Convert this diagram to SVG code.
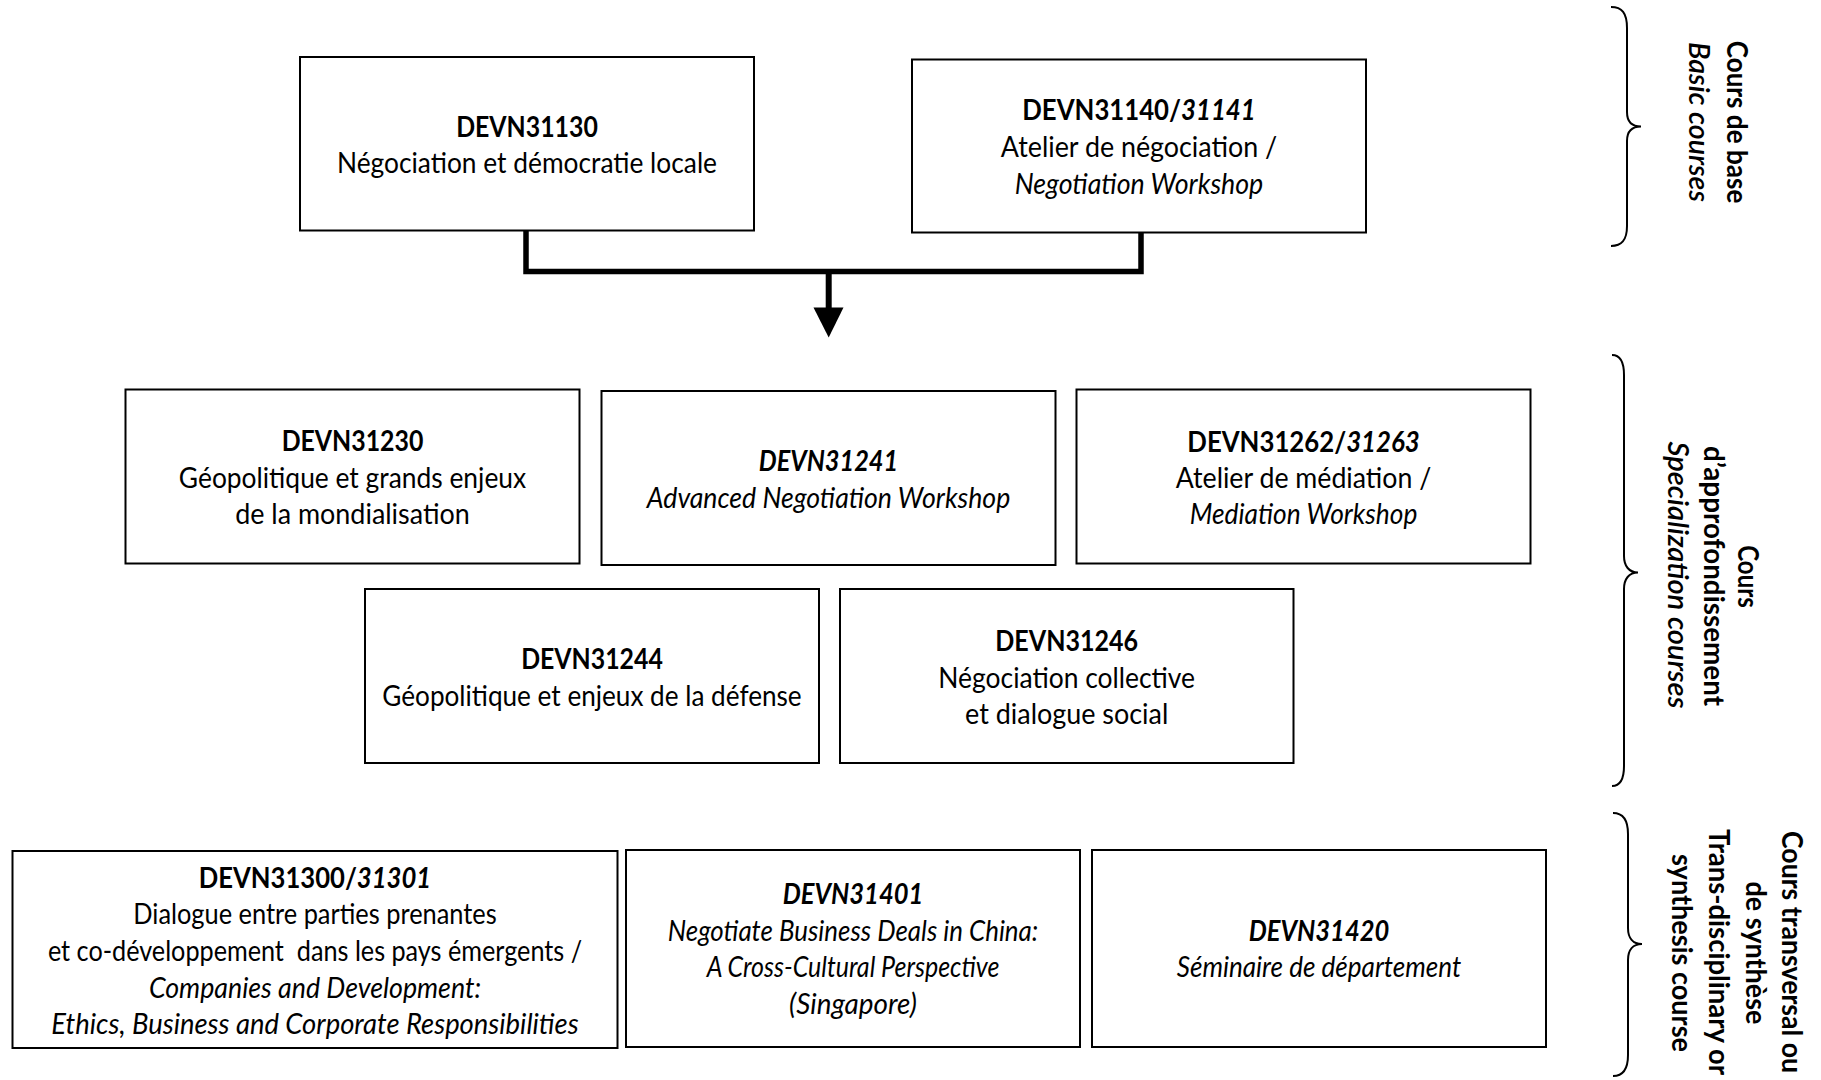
<svg xmlns="http://www.w3.org/2000/svg" width="1821" height="1080" viewBox="0 0 1821 1080">
<defs>
<style>
.box{fill:#fff;stroke:#000;stroke-width:2}
.t{font-family:Lato,"Open Sans","Liberation Sans",sans-serif;font-size:29px;text-anchor:middle;fill:#000}
.b{font-weight:bold}
.i{font-style:italic}
.lb{font-family:Lato,"Open Sans","Liberation Sans",sans-serif;font-size:28px;text-anchor:middle;fill:#000}
.sb{font-weight:600}
.brace{fill:none;stroke:#000;stroke-width:2}
.conn{fill:none;stroke:#000;stroke-width:5.5}
</style>
</defs>
<rect width="1821" height="1080" fill="#fff"/>

<g id="connectors">
<path class="conn" d="M526,230 V271.5 H1141 V232"/>
<path class="conn" d="M828.7,271.5 V309" style="stroke-width:6"/>
<polygon points="813.5,307.5 843.5,307.5 828.7,337.5" fill="#000"/>
</g>

<g id="n31130">
<rect class="box" x="300" y="57" width="454" height="173.5"/>
<text class="t b" x="527" y="136.7" textLength="141.7" lengthAdjust="spacingAndGlyphs">DEVN31130</text>
<text class="t" x="527" y="173.3" textLength="380" lengthAdjust="spacingAndGlyphs">Négociation et démocratie locale</text>
</g>

<g id="n31140">
<rect class="box" x="912" y="59.5" width="454" height="173"/>
<text class="t b" x="1139" y="120" textLength="233.4" lengthAdjust="spacingAndGlyphs">DEVN31140/<tspan class="i">31141</tspan></text>
<text class="t" x="1139" y="157" textLength="276.4" lengthAdjust="spacingAndGlyphs">Atelier de négociation /</text>
<text class="t i" x="1139" y="193.5" textLength="248.5" lengthAdjust="spacingAndGlyphs">Negotiation Workshop</text>
</g>

<g id="n31230">
<rect class="box" x="125.5" y="389.5" width="454" height="174"/>
<text class="t b" x="352.5" y="451" textLength="141.7" lengthAdjust="spacingAndGlyphs">DEVN31230</text>
<text class="t" x="352.5" y="487.5" textLength="347.3" lengthAdjust="spacingAndGlyphs">Géopolitique et grands enjeux</text>
<text class="t" x="352.5" y="524" textLength="234.6" lengthAdjust="spacingAndGlyphs">de la mondialisation</text>
</g>

<g id="n31241">
<rect class="box" x="601.5" y="391" width="454" height="174"/>
<text class="t b i" x="828.5" y="471.2" textLength="139.4" lengthAdjust="spacingAndGlyphs">DEVN31241</text>
<text class="t i" x="828.5" y="507.8" textLength="363.5" lengthAdjust="spacingAndGlyphs">Advanced Negotiation Workshop</text>
</g>

<g id="n31262">
<rect class="box" x="1076.5" y="389.5" width="454" height="174"/>
<text class="t b" x="1303.5" y="451.5" textLength="232.3" lengthAdjust="spacingAndGlyphs">DEVN31262/<tspan class="i">31263</tspan></text>
<text class="t" x="1303.5" y="488" textLength="255.5" lengthAdjust="spacingAndGlyphs">Atelier de médiation /</text>
<text class="t i" x="1303.5" y="524" textLength="227.6" lengthAdjust="spacingAndGlyphs">Mediation Workshop</text>
</g>

<g id="n31244">
<rect class="box" x="365" y="589" width="454" height="174"/>
<text class="t b" x="592" y="669.2" textLength="141.7" lengthAdjust="spacingAndGlyphs">DEVN31244</text>
<text class="t" x="592" y="705.8" textLength="419.3" lengthAdjust="spacingAndGlyphs">Géopolitique et enjeux de la défense</text>
</g>

<g id="n31246">
<rect class="box" x="840" y="589" width="453.5" height="174"/>
<text class="t b" x="1066.7" y="651" textLength="142.9" lengthAdjust="spacingAndGlyphs">DEVN31246</text>
<text class="t" x="1066.7" y="687.5" textLength="256.7" lengthAdjust="spacingAndGlyphs">Négociation collective</text>
<text class="t" x="1066.7" y="724" textLength="203.2" lengthAdjust="spacingAndGlyphs">et dialogue social</text>
</g>

<g id="n31300">
<rect class="box" x="12.5" y="851" width="605" height="197"/>
<text class="t b" x="315" y="887.8" textLength="232.3" lengthAdjust="spacingAndGlyphs">DEVN31300/<tspan class="i">31301</tspan></text>
<text class="t" x="315" y="924.4" textLength="363.5" lengthAdjust="spacingAndGlyphs">Dialogue entre parties prenantes</text>
<text class="t" x="315" y="961" textLength="534.2" lengthAdjust="spacingAndGlyphs">et co-développement &#160;dans les pays émergents /</text>
<text class="t i" x="315" y="997.6" textLength="332.2" lengthAdjust="spacingAndGlyphs">Companies and Development:</text>
<text class="t i" x="315" y="1034" textLength="527.3" lengthAdjust="spacingAndGlyphs">Ethics, Business and Corporate Responsibilities</text>
</g>

<g id="n31401">
<rect class="box" x="626" y="850" width="454" height="197"/>
<text class="t b i" x="853" y="904" textLength="140.5" lengthAdjust="spacingAndGlyphs">DEVN31401</text>
<text class="t i" x="853" y="940.7" textLength="370.5" lengthAdjust="spacingAndGlyphs">Negotiate Business Deals in China:</text>
<text class="t i" x="853" y="977.3" textLength="292.7" lengthAdjust="spacingAndGlyphs">A Cross-Cultural Perspective</text>
<text class="t i" x="853" y="1013.9" textLength="127.8" lengthAdjust="spacingAndGlyphs">(Singapore)</text>
</g>

<g id="n31420">
<rect class="box" x="1092" y="850" width="454" height="197"/>
<text class="t b i" x="1319" y="940.7" textLength="140.5" lengthAdjust="spacingAndGlyphs">DEVN31420</text>
<text class="t i" x="1319" y="977.3" textLength="284.5" lengthAdjust="spacingAndGlyphs">Séminaire de département</text>
</g>

<g id="grp-basic">
<path class="brace" d="M1611,7 C1622,7 1627,13 1627,28 L1627,112 C1627,122 1632,126.5 1641,126.5 C1632,126.5 1627,131 1627,141 L1627,226 C1627,240 1622,246 1611,246"/>
<text class="lb b" transform="translate(1727,122) rotate(90)" textLength="162.6" lengthAdjust="spacingAndGlyphs">Cours de base</text>
<text class="lb i b" transform="translate(1689,122) rotate(90)" textLength="160" lengthAdjust="spacingAndGlyphs" style="font-weight:600">Basic courses</text>
</g>

<g id="grp-spec">
<path class="brace" d="M1612,355 C1620,355 1624,361 1624,375 L1624,556 C1624,566 1629,572.5 1638,572.5 C1629,572.5 1624,579 1624,589 L1624,766 C1624,780 1620,786 1612,786"/>
<text class="lb b" transform="translate(1738,576.5) rotate(90)" textLength="62.6" lengthAdjust="spacingAndGlyphs">Cours</text>
<text class="lb b" transform="translate(1704,576) rotate(90)" textLength="260" lengthAdjust="spacingAndGlyphs">d’approfondissement</text>
<text class="lb i" transform="translate(1668,575) rotate(90)" textLength="267" lengthAdjust="spacingAndGlyphs" style="font-weight:600">Specialization courses</text>
</g>

<g id="grp-synth">
<path class="brace" d="M1613,813 C1622,813 1628,819 1628,834 L1628,928 C1628,938 1633,944 1642,944 C1633,944 1628,950 1628,960 L1628,1055 C1628,1070 1622,1076 1613,1076"/>
<text class="lb b" transform="translate(1782,952) rotate(90)" textLength="242" lengthAdjust="spacingAndGlyphs">Cours transversal ou</text>
<text class="lb b" transform="translate(1746,953) rotate(90)" textLength="143" lengthAdjust="spacingAndGlyphs">de synthèse</text>
<text class="lb b" transform="translate(1709,952) rotate(90)" textLength="246" lengthAdjust="spacingAndGlyphs">Trans-disciplinary or</text>
<text class="lb b" transform="translate(1672,953) rotate(90)" textLength="198" lengthAdjust="spacingAndGlyphs">synthesis course</text>
</g>
</svg>
